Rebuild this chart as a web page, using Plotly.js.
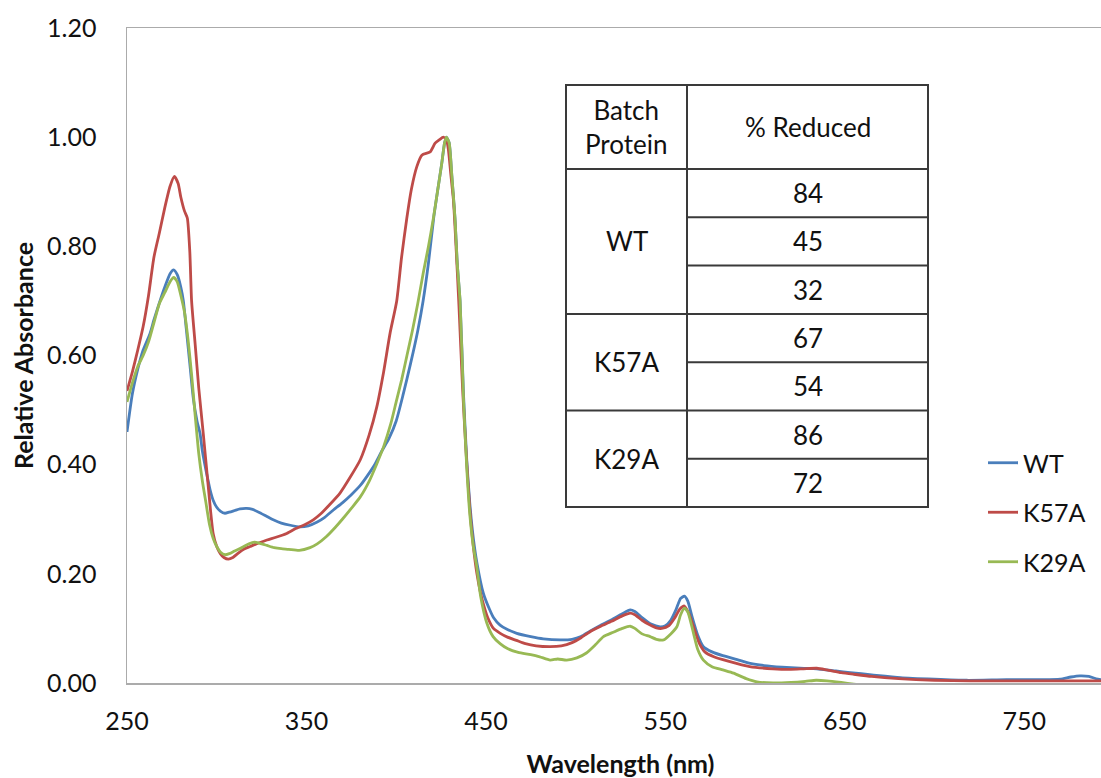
<!DOCTYPE html>
<html>
<head>
<meta charset="utf-8">
<script src="https://cdn.plot.ly/plotly-3.0.1.min.js"></script>
<style>
html,body{margin:0;padding:0;background:#fff;overflow:hidden;}
#chart{width:1116px;height:778px;}
</style>
</head>
<body>
<div id="chart"></div>
<script>
// ---- Data ----
const seriesNames = ['WT', 'K57A', 'K29A'];

const wtWavelength = [250,253,256,259,262.8,265,268.4,271,274,276,278,280,281.4,283,285,287,289,290.7,292,294,296.3,298,300,302,304.6,307,310,313,316.7,320,324,328,331.5,336,341,346.4,351,356,360,365,370,375,380,384,388,392,396,400,404,408,412,415,418,421,423,425.4,427,428,429.5,431,432.8,434,435.6,437.5,439.3,441,443,445,448.6,452,454.2,457.9,462,467.2,475,482,491.4,498,503,508,514,520,526,530.4,533,537,542,547.1,550,553,556,558.5,560.6,562.5,565,568,571.2,576,582,590,597.3,605,615,625,634.4,645,653,665,681,700,718,740,760,770,776,781,786,791,800];
const wtAbs = [0.46,0.53,0.575,0.61,0.64,0.665,0.70,0.725,0.75,0.757,0.748,0.725,0.70,0.65,0.585,0.52,0.48,0.457,0.425,0.39,0.354,0.335,0.322,0.315,0.311,0.313,0.316,0.319,0.32,0.318,0.312,0.305,0.299,0.293,0.289,0.286,0.288,0.295,0.303,0.317,0.33,0.345,0.362,0.38,0.40,0.425,0.448,0.48,0.53,0.585,0.645,0.70,0.77,0.855,0.90,0.952,0.99,1.0,0.99,0.93,0.85,0.77,0.70,0.53,0.41,0.33,0.265,0.22,0.164,0.135,0.12,0.106,0.098,0.091,0.085,0.081,0.079,0.08,0.085,0.095,0.106,0.116,0.127,0.134,0.131,0.12,0.108,0.103,0.105,0.115,0.135,0.155,0.159,0.15,0.12,0.088,0.0665,0.057,0.05,0.043,0.036,0.032,0.029,0.027,0.026,0.022,0.019,0.015,0.010,0.007,0.005,0.006,0.006,0.007,0.011,0.013,0.012,0.007,0.005];

const k57aWavelength = [250,253,256,259,262,265,268,271,274,276.4,278.5,280,282,283.6,285,286,288,290,292.5,295,298,300,302,304,306.5,309,312,315,318.6,323,328,333,339,344,349,353.8,358,363,368.7,374,380,385,389.2,393,396.6,400.3,403,405.9,408.5,411.5,414.3,418.9,421.7,424,426.3,428,429.1,430.5,431.9,433.5,435,437,439,441,443,445,447,449,451,454.2,458,462,467,472,478,485.8,492,498,503,508,514,520,526,530.4,533,537,541,545,548,552,555,558,560.6,563,566,569,572,577,585,597,610,620,627,634.4,640,648,655,665,680,700,720,760,800];
const k57aAbs = [0.535,0.57,0.61,0.653,0.71,0.78,0.824,0.87,0.91,0.928,0.915,0.89,0.865,0.852,0.79,0.70,0.62,0.54,0.457,0.37,0.274,0.25,0.237,0.23,0.227,0.23,0.238,0.245,0.25,0.256,0.262,0.267,0.274,0.283,0.29,0.299,0.31,0.327,0.348,0.375,0.409,0.455,0.506,0.57,0.641,0.70,0.78,0.851,0.905,0.946,0.967,0.973,0.989,0.995,1.0,0.995,0.977,0.93,0.885,0.79,0.69,0.54,0.42,0.32,0.25,0.20,0.165,0.14,0.12,0.100,0.091,0.084,0.078,0.072,0.068,0.0665,0.068,0.074,0.083,0.094,0.104,0.113,0.123,0.128,0.125,0.115,0.107,0.101,0.10,0.105,0.118,0.135,0.141,0.128,0.10,0.072,0.057,0.048,0.04,0.03,0.026,0.025,0.026,0.027,0.024,0.019,0.016,0.012,0.008,0.005,0.004,0.004,0.004];

const k29aWavelength = [250,253,256,259,262,265,268,271,274,276,278,280,282,284,286,288,290,292,294,296,298,300,302,304.6,307,310,314,318,321,324,328,332,336,340,346,352,356,361,366,370,375,380,385,389,393,397,400,403,406,409,412,415,418,420.7,423,425.4,427,428,429.5,431,432.8,434,435.6,437.5,439.3,441,443,444.9,447,450.5,454,457.9,462,468,475,480,485.8,490,495,500.7,506,511,515.5,521,526,530.4,533,537,541.5,545,549,553,556.4,558.5,560.6,562.5,565.7,568,571.2,576,582,588,595,601,610,620,628,634,640,648,655,665,800];
const k29aAbs = [0.515,0.55,0.58,0.60,0.625,0.66,0.695,0.715,0.735,0.743,0.735,0.71,0.68,0.63,0.565,0.49,0.42,0.37,0.33,0.29,0.265,0.25,0.24,0.235,0.237,0.242,0.248,0.255,0.258,0.256,0.252,0.248,0.246,0.245,0.243,0.248,0.255,0.268,0.285,0.30,0.32,0.341,0.37,0.40,0.433,0.475,0.515,0.555,0.60,0.645,0.695,0.75,0.80,0.851,0.90,0.952,0.99,1.0,0.99,0.93,0.85,0.77,0.70,0.52,0.396,0.31,0.25,0.213,0.16,0.11,0.085,0.072,0.063,0.056,0.052,0.048,0.042,0.044,0.042,0.046,0.055,0.07,0.085,0.093,0.10,0.104,0.10,0.09,0.085,0.08,0.079,0.09,0.103,0.125,0.137,0.13,0.091,0.062,0.042,0.03,0.024,0.018,0.008,0.002,0.0,0.001,0.003,0.005,0.004,0.001,-0.002,-0.006,-0.006];

const xTickVals = [250,350,450,550,650,750];
const yTickVals = [0,0.2,0.4,0.6,0.8,1.0,1.2];
const yTickText = ['0.00','0.20','0.40','0.60','0.80','1.00','1.20'];

// Inset table data
const tableHeader = ['Batch<br>Protein', '% Reduced'];
const tableBatches = ['WT', 'K57A', 'K29A'];
const tableReduced = [[84, 45, 32], [67, 54], [86, 72]];

// ---- Styling ----
const colors = ['#4A7EBB', '#BE4B48', '#98B954'];
const FONT = 'Lato, "Open Sans", sans-serif';
const W = 1116, H = 778;
const M = {l:127, r:2, t:28, b:95};
const PW = W - M.l - M.r, PH = H - M.t - M.b;
const px = v => (v - M.l) / PW;     // page pixel -> paper x
const py = v => (M.t + PH - v) / PH; // page pixel -> paper y

const xs = [wtWavelength, k57aWavelength, k29aWavelength];
const ys = [wtAbs, k57aAbs, k29aAbs];
const traces = seriesNames.map((n, i) => ({
  type: 'scatter', mode: 'lines', name: n, x: xs[i], y: ys[i],
  line: {color: colors[i], width: 2.8, shape: 'spline', smoothing: 0.6},
  legendgroup: n
}));

// Table geometry (overlay)
const tL = 566, tM = 687, tR = 928, tTop = 85, tHead = 169, rowH = 48.3;
const shapes = [];
const annotations = [];
const lineStyle = {color: '#3a3a3a', width: 2};
function seg(x0, y0, x1, y1) {
  shapes.push({type: 'line', xref: 'paper', yref: 'paper', x0: px(x0), y0: py(y0), x1: px(x1), y1: py(y1), line: lineStyle, layer: 'above'});
}
function txt(x, y, t) {
  annotations.push({xref: 'paper', yref: 'paper', x: px(x), y: py(y), text: t, showarrow: false,
    xanchor: 'center', yanchor: 'middle', font: {family: FONT, size: 26, color: '#111'}});
}
const nRows = tableReduced.reduce((a, r) => a + r.length, 0);
const tBot = tHead + nRows * rowH;
shapes.push({type: 'rect', xref: 'paper', yref: 'paper', x0: px(tL), y0: py(tTop), x1: px(tR), y1: py(tBot), fillcolor: '#fff', line: lineStyle, layer: 'above'});
seg(tL, tHead, tR, tHead);
seg(tM, tTop, tM, tBot);
txt((tL + tM) / 2, (tTop + tHead) / 2, tableHeader[0]);
txt((tM + tR) / 2, (tTop + tHead) / 2, tableHeader[1]);
let r = 0;
tableBatches.forEach((b, gi) => {
  const g = tableReduced[gi];
  const gTop = tHead + r * rowH;
  txt((tL + tM) / 2, gTop + g.length * rowH / 2, b);
  g.forEach((v, k) => {
    const rTop = tHead + (r + k) * rowH;
    txt((tM + tR) / 2, rTop + rowH / 2, String(v));
    if (r + k > 0) seg(k === 0 ? tL : tM, rTop, tR, rTop);
  });
  r += g.length;
});

const axisColor = '#ABABAB';
const layout = {
  width: W, height: H,
  margin: M,
  paper_bgcolor: '#fff', plot_bgcolor: '#fff',
  font: {family: FONT, color: '#111', size: 25},
  showlegend: true,
  legend: {x: px(983), y: py(440), xanchor: 'left', yanchor: 'top', bgcolor: 'rgba(0,0,0,0)',
    font: {family: FONT, size: 25, color: '#111'}, tracegroupgap: 14, itemwidth: 30},
  xaxis: {
    range: [250, 800], tickvals: xTickVals, ticks: '', showgrid: false, zeroline: false,
    showline: true, linecolor: axisColor, linewidth: 1.5, mirror: true,
    tickfont: {family: FONT, size: 25, color: '#111'}, ticklabelstandoff: 15,
    title: {text: '<b>Wavelength (nm)</b>', font: {family: FONT, size: 25, color: '#111'}, standoff: 24}
  },
  yaxis: {
    range: [0, 1.2], tickvals: yTickVals, ticktext: yTickText, ticks: '', showgrid: false, zeroline: false,
    showline: true, linecolor: axisColor, linewidth: 1.5,
    tickfont: {family: FONT, size: 25, color: '#111'}, ticklabelstandoff: 24,
    title: {text: '<b>Relative Absorbance</b>', font: {family: FONT, size: 25, color: '#111'}, standoff: 6}
  },
  shapes: shapes,
  annotations: annotations
};

Plotly.newPlot('chart', traces, layout, {staticPlot: true, displayModeBar: false});
</script>
</body>
</html>
